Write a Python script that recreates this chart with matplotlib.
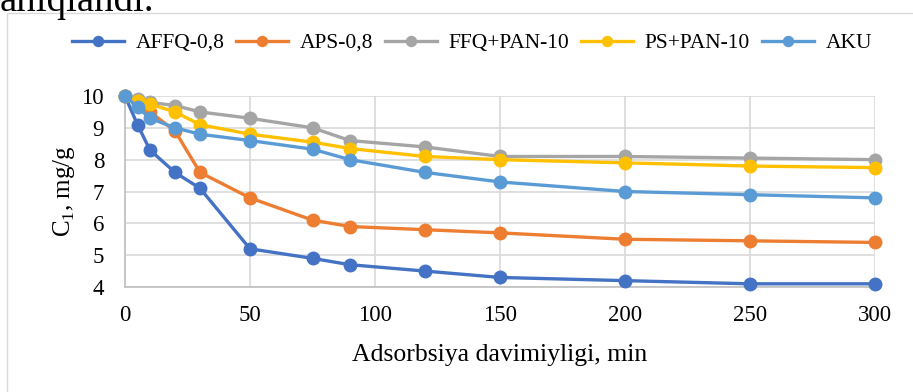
import matplotlib
matplotlib.use("Agg")
import matplotlib.pyplot as plt
from matplotlib.patches import Rectangle

plt.rcParams['font.family'] = ['Liberation Serif', 'DejaVu Serif']
plt.rcParams['mathtext.fontset'] = 'custom'
plt.rcParams['mathtext.rm'] = 'Liberation Serif'

# adsorption time, min
time_min = [0, 5, 10, 20, 30, 50, 75, 90, 120, 150, 200, 250, 300]

affq = [10, 9.1, 8.3, 7.6, 7.1, 5.2, 4.9, 4.7, 4.5, 4.3, 4.2, 4.1, 4.1]
aps = [10, 9.75, 9.5, 8.9, 7.6, 6.8, 6.1, 5.9, 5.8, 5.7, 5.5, 5.45, 5.4]
ffq_pan = [10, 9.9, 9.8, 9.7, 9.5, 9.3, 9.0, 8.6, 8.4, 8.1, 8.1, 8.05, 8.0]
ps_pan = [10, 9.85, 9.75, 9.5, 9.1, 8.8, 8.55, 8.35, 8.1, 8.0, 7.9, 7.8, 7.75]
aku = [10, 9.65, 9.3, 9.0, 8.8, 8.6, 8.33, 8.0, 7.6, 7.3, 7.0, 6.9, 6.8]

series = [
    ("AFFQ-0,8", affq, "#4472C4"),
    ("APS-0,8", aps, "#ED7D31"),
    ("FFQ+PAN-10", ffq_pan, "#A5A5A5"),
    ("PS+PAN-10", ps_pan, "#FFC000"),
    ("AKU", aku, "#5B9BD5"),
]

fig = plt.figure(figsize=(9.13, 3.92), dpi=100)
ax = fig.add_axes([125/913, 1-287/392, 750/913, 191/392])

# chart area border
fig.patches.append(Rectangle((7/913, -0.1), 1.2, 1-13/392+0.1, transform=fig.transFigure,
                             fill=False, edgecolor="#d9d9d9", lw=1.0))
# leftover text from the page above the chart (cut off, as in the source)
fig.text(0.0, 1-11/392, "aniqlandi.", fontsize=28, va="baseline", ha="left")

for name, vals, col in series:
    ax.plot(time_min, vals, color=col, lw=2.4, marker="o", ms=9,
            label=name, clip_on=False, zorder=3)

ax.set_xlim(0, 300)
ax.set_ylim(4, 10)
ax.set_xticks(range(0, 301, 50))
ax.set_yticks(range(4, 11))
ax.grid(True, color="#d9d9d9", lw=1.2)
ax.set_axisbelow(True)
for s in ["top", "right"]:
    ax.spines[s].set_visible(False)
for s in ["left", "bottom"]:
    ax.spines[s].set_color("#bfbfbf")
    ax.spines[s].set_linewidth(1.2)
ax.tick_params(length=0, labelsize=16.5)
ax.tick_params(axis="x", pad=13)
ax.tick_params(axis="y", pad=15)

ax.set_xlabel("Adsorbsiya davimiyligi, min", fontsize=18.5, labelpad=13)
ax.set_ylabel("C$_\\mathrm{1}$, mg/g", fontsize=18, labelpad=3)

fig.legend(loc="center", bbox_to_anchor=(472/913, 1-43/392), ncol=5, frameon=False,
           fontsize=15.5, handlelength=2.4, columnspacing=0.55, handletextpad=0.55,
           markerscale=0.8)

fig.savefig("out.png", dpi=100)
